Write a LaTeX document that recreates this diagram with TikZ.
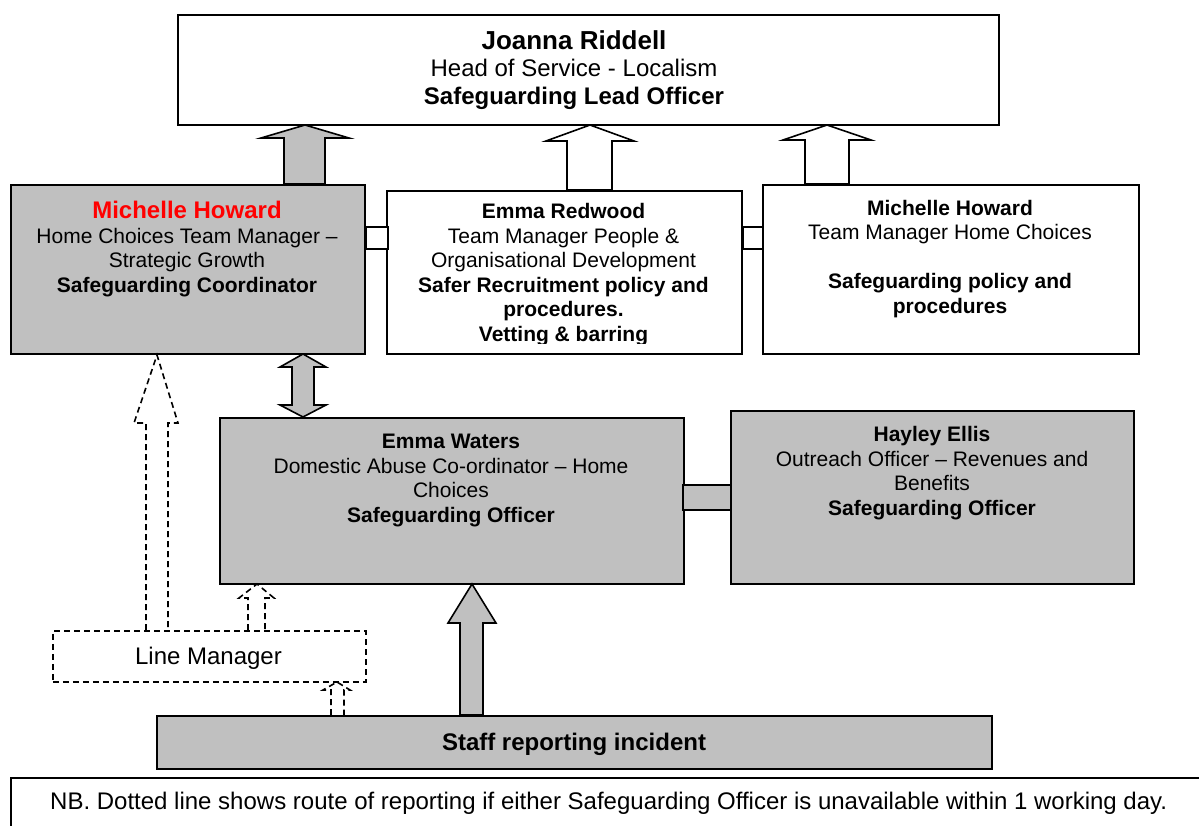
\documentclass[tikz,border=0pt]{standalone}
\usepackage{fontspec}
\setmainfont{Liberation Sans}
\definecolor{boxgray}{RGB}{192,192,192}
\definecolor{namered}{RGB}{255,0,0}
\begin{document}
\begin{tikzpicture}[x=1pt,y=-1pt,
  box/.style={draw=black, line width=1.6pt, fill=white, inner sep=0pt, anchor=north west},
  gbox/.style={box, fill=boxgray},
  txt/.style={align=center, anchor=base, inner sep=0pt, font=\fontsize{21}{24.5}\selectfont},
  blk/.style={draw=black, line width=1.6pt, line join=miter},
  dsh/.style={draw=black, line width=1.6pt, dash pattern=on 6pt off 4pt}
]
\useasboundingbox (0,0) rectangle (1199,825);

% boxes
\node[box, minimum width=821, minimum height=110] (top) at (177,14) {};
\node[gbox, minimum width=354, minimum height=169] (mh) at (10,184) {};
\node[box, minimum width=355, minimum height=163] (er) at (386,190) {};
\node[box, minimum width=376, minimum height=169] (mh2) at (762,184) {};
\node[gbox, minimum width=464, minimum height=166] (ew) at (219,417) {};
\node[gbox, minimum width=403, minimum height=173] (he) at (730,410) {};
\node[box, dsh, minimum width=313, minimum height=51] (lm) at (52,630) {};
\node[gbox, minimum width=835, minimum height=53] (staff) at (156,715) {};
\node[box, minimum width=1200, minimum height=60] (nb) at (10,777) {};

% small link boxes
\node[box, minimum width=22, minimum height=22] (link1) at (365,226) {};
\node[box, minimum width=20, minimum height=22] (link2) at (742,226) {};
\node[gbox, minimum width=48, minimum height=25] (link3) at (682,484) {};

% texts (anchored at the baseline of the last line)
\node[txt, font=\fontsize{24}{27.5}\selectfont] (top-t) at (574,104)
  {{\fontsize{26}{27.5}\selectfont\bfseries Joanna Riddell}\\ Head of Service - Localism\\ \textbf{Safeguarding Lead Officer}};
\node[txt] (mh-t) at (187,292)
  {{\fontsize{24}{24.5}\selectfont\bfseries\color{namered}Michelle Howard}\\ Home Choices Team Manager --\\ Strategic Growth\\ \textbf{Safeguarding Coordinator}};
\begin{scope}
  \clip (386,190) rectangle (741,343);
  \node[txt] (er-t) at (563.5,341)
    {\textbf{Emma Redwood}\\ Team Manager People \&\\ Organisational Development\\ \textbf{Safer Recruitment policy and}\\ \textbf{procedures.}\\ \textbf{Vetting \& barring}};
\end{scope}
\node[txt] (mh2-t) at (950,313)
  {\textbf{Michelle Howard}\\ Team Manager Home Choices\\ \mbox{}\\ \textbf{Safeguarding policy and}\\ \textbf{procedures}};
\node[txt] (ew-t) at (451,522)
  {\textbf{Emma Waters}\\ Domestic Abuse Co-ordinator -- Home\\ Choices\\ \textbf{Safeguarding Officer}};
\node[txt] (he-t) at (932,515)
  {\textbf{Hayley Ellis}\\ Outreach Officer -- Revenues and\\ Benefits\\ \textbf{Safeguarding Officer}};
\node[txt, font=\fontsize{24}{27}\selectfont] (lm-t) at (208.5,664) {Line Manager};
\node[txt, font=\fontsize{24}{27}\selectfont\bfseries] (staff-t) at (574,750) {Staff reporting incident};
\node[txt, anchor=base west, font=\fontsize{24}{27}\selectfont] (nb-t) at (50,809)
  {NB. Dotted line shows route of reporting if either Safeguarding Officer is unavailable within 1 working day.};

% block arrows
\draw[blk, fill=boxgray] (305,125) -- (349,138) -- (325,138) -- (325,184) -- (284,184) -- (284,138) -- (261,138) -- cycle;
\draw[blk, fill=white] (590,125) -- (634,141) -- (612,141) -- (612,190) -- (567,190) -- (567,141) -- (546,141) -- cycle;
\draw[blk, fill=white] (827,125) -- (871,140) -- (849,140) -- (849,184) -- (805,184) -- (805,140) -- (783,140) -- cycle;
\draw[blk, fill=boxgray] (303,354) -- (326,367) -- (314,367) -- (314,405) -- (326,405) -- (303,417) -- (280,405) -- (292,405) -- (292,367) -- (280,367) -- cycle;
\draw[blk, fill=boxgray] (472,584) -- (496,623) -- (483,623) -- (483,715) -- (460,715) -- (460,623) -- (448,623) -- cycle;

% dashed arrows
\draw[dsh] (146,630) -- (146,423) -- (134,423) -- (157,355) -- (178,423) -- (168,423) -- (168,630);
\draw[dsh] (248,630) -- (248,598) -- (239,598) -- (257,584) -- (274,598) -- (265,598) -- (265,630);
\draw[dsh] (331,715) -- (331,690) -- (323,690) -- (337,682) -- (350,690) -- (344,690) -- (344,715);
\end{tikzpicture}
\end{document}
